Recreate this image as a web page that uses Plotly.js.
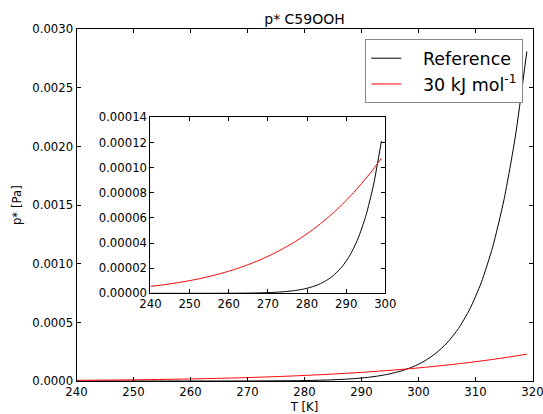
<!DOCTYPE html>
<html>
<head>
<meta charset="utf-8">
<script src="https://cdn.plot.ly/plotly-3.0.1.min.js"></script>
<style>html,body{margin:0;padding:0;background:#fff;}#chart{width:543px;height:414px;}</style>
</head>
<body>
<div id="chart"></div>
<script>
// Temperatures [K]
const temperature = [240, 241, 243, 245, 247, 249, 251, 253, 255, 257, 259, 261, 263, 265, 267, 269, 271, 273, 275, 277, 279,
  281, 283, 285, 287, 289, 291, 293, 295, 297, 299, 301, 303, 305, 307, 309, 311, 313, 315, 317, 319];
// Reference curve p* [Pa]
const pReference = [5.3e-10, 6.9e-10, 1.15e-9, 1.91e-9, 3.14e-9, 5.1e-9, 8.3e-9, 1.32e-8, 2.11e-8, 3.33e-8, 5.22e-8,
  8.14e-8, 1.261e-7, 1.938e-7, 2.96e-7, 4.50e-7, 6.79e-7, 1.018e-6, 1.518e-6, 2.251e-6, 3.318e-6,
  4.866e-6, 7.09e-6, 1.029e-5, 1.485e-5, 2.133e-5, 3.046e-5, 4.331e-5, 6.128e-5, 8.632e-5, 1.21e-4,
  1.6887e-4, 2.3467e-4, 3.2462e-4, 4.4725e-4, 6.1353e-4, 8.3845e-4, 1.14107e-3, 1.5469e-3, 2.0891e-3, 2.8101e-3];
// 30 kJ/mol curve p* [Pa]
const p30kJ = [5.53e-6, 5.88e-6, 6.66e-6, 7.51e-6, 8.47e-6, 9.52e-6, 1.069e-5, 1.197e-5, 1.339e-5, 1.495e-5, 1.666e-5,
  1.854e-5, 2.059e-5, 2.284e-5, 2.529e-5, 2.796e-5, 3.087e-5, 3.404e-5, 3.747e-5, 4.119e-5, 4.522e-5,
  4.958e-5, 5.429e-5, 5.937e-5, 6.485e-5, 7.074e-5, 7.707e-5, 8.389e-5, 9.119e-5, 9.901e-5, 1.074e-4,
  1.1637e-4, 1.2595e-4, 1.3617e-4, 1.4707e-4, 1.5871e-4, 1.7109e-4, 1.8424e-4, 1.9824e-4, 2.1310e-4, 2.2885e-4];
const insetMaxT = 299;
const seriesNames = ['\u00a0\u00a0\u00a0Reference', '\u00a0\u00a0\u00a030 kJ mol<sup>-1</sup>'];
const titleText = 'p* C59OOH';
const xTitle = 'T [K]';
const yTitle = 'p* [Pa]';

const nInset = temperature.indexOf(insetMaxT) + 1;
const font = {family: 'DejaVu Sans, sans-serif', size: 11.7, color: '#000'};
const lineStyle = (c) => ({color: c, width: 1, shape: 'spline', smoothing: 0.6});

const traces = [
  {x: temperature, y: pReference, type: 'scatter', mode: 'lines', name: seriesNames[0],
   line: lineStyle('#000'), xaxis: 'x', yaxis: 'y'},
  {x: temperature, y: p30kJ, type: 'scatter', mode: 'lines', name: seriesNames[1],
   line: lineStyle('#ff0000'), xaxis: 'x', yaxis: 'y'},
  {x: temperature.slice(0, nInset), y: pReference.slice(0, nInset), type: 'scatter', mode: 'lines',
   showlegend: false, line: lineStyle('#000'), xaxis: 'x2', yaxis: 'y2'},
  {x: temperature.slice(0, nInset), y: p30kJ.slice(0, nInset), type: 'scatter', mode: 'lines',
   showlegend: false, line: lineStyle('#ff0000'), xaxis: 'x2', yaxis: 'y2'}
];

const axisCommon = {
  showgrid: false, zeroline: false, showline: true, linecolor: '#000', linewidth: 1,
  mirror: 'ticks', ticks: 'inside', ticklen: 4, tickwidth: 1, tickcolor: '#000',
  tickfont: font, fixedrange: true, ticklabeloverflow: 'allow'
};

const layout = {
  width: 543, height: 414,
  margin: {l: 0, r: 0, t: 0, b: 0},
  paper_bgcolor: '#fff', plot_bgcolor: '#fff',
  showlegend: true,
  font: font,
  title: {text: titleText, font: {family: font.family, size: 14, color: '#000'},
          x: 0.5608, xanchor: 'center', y: 0.954, yanchor: 'middle'},
  xaxis: Object.assign({}, axisCommon, {
    domain: [0.1409, 0.9807], range: [240, 320], dtick: 10, tick0: 240, anchor: 'y',
    title: {text: xTitle, font: font, standoff: 6}
  }),
  yaxis: Object.assign({}, axisCommon, {
    domain: [0.0797, 0.9292], range: [0, 0.003], dtick: 0.0005, tick0: 0, tickformat: '.4f', anchor: 'x',
    title: {text: yTitle, font: font, standoff: 8}
  }),
  xaxis2: Object.assign({}, axisCommon, {
    domain: [0.2770, 0.7096], range: [240, 300], dtick: 10, tick0: 240, anchor: 'y2'
  }),
  yaxis2: Object.assign({}, axisCommon, {
    domain: [0.2915, 0.7167], range: [0, 0.00014], dtick: 0.00002, tick0: 0, tickformat: '.5f', anchor: 'x2'
  }),
  legend: {
    x: 0.9637, xanchor: 'right', y: 0.905, yanchor: 'top',
    bgcolor: '#fff', bordercolor: '#888', borderwidth: 1,
    font: {family: font.family, size: 17.5, color: '#000'}
  },
  hovermode: false
};

Plotly.newPlot('chart', traces, layout, {staticPlot: true, displayModeBar: false});
</script>
</body>
</html>
